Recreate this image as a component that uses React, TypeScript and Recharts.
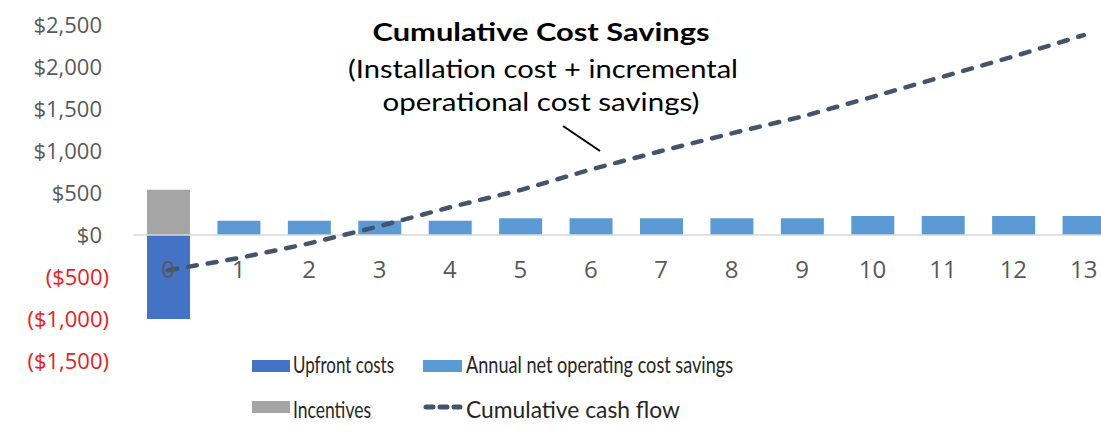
import React from 'react';
import { ComposedChart, Bar, Line, XAxis, YAxis, ReferenceLine, Legend } from 'recharts';

const years = ['0', '1', '2', '3', '4', '5', '6', '7', '8', '9', '10', '11', '12', '13'];
const upfrontCosts = [-1000, null, null, null, null, null, null, null, null, null, null, null, null, null];
const incentives = [540, null, null, null, null, null, null, null, null, null, null, null, null, null];
const annualSavings = [null, 170, 170, 170, 170, 200, 200, 200, 200, 200, 225, 225, 225, 225];
const cumulativeCashFlow = [-420, -275, -100, 105, 330, 535, 780, 1000, 1210, 1410, 1645, 1885, 2125, 2380];
const yTicks = [-1500, -1000, -500, 0, 500, 1000, 1500, 2000, 2500];

const data = years.map((year, i) => ({
    year,
    upfront: upfrontCosts[i],
    incentives: incentives[i],
    savings: annualSavings[i],
    cumulative: cumulativeCashFlow[i],
}));

const Y_MIN = -1500;
const Y_MAX = 2500;
const TOP = 25;
const PLOT_H = 336;
const X_AXIS_H = 30;
const zeroY = TOP + (PLOT_H * Y_MAX) / (Y_MAX - Y_MIN);

const fmt = (v: number) => {
    const s = '$' + Math.abs(v).toLocaleString('en-US');
    return v < 0 ? `(${s})` : s;
};

const YTick = (props: any) => {
    const { x, y, payload } = props;
    const neg = payload.value < 0;
    return (
        <text
            x={neg ? x : x - 7}
            y={y}
            dy="0.355em"
            textAnchor="end"
            fontFamily="'Open Sans', sans-serif"
            fontSize={22}
            fill={neg ? '#e8201e' : '#595959'}
        >
            {fmt(payload.value)}
        </text>
    );
};

// x labels sit just under the zero line, like the excel original
const XTick = (props: any) => {
    const { x, payload } = props;
    return (
        <text x={x} y={zeroY + 43} textAnchor="middle" fontFamily="'Open Sans', sans-serif" fontSize={24} fill="#595959">
            {payload.value}
        </text>
    );
};

const legendFont = "Lato, 'Noto Sans', sans-serif";

const renderLegend = () => (
    <svg width={560} height={87} style={{ display: 'block', overflow: 'visible' }}>
        <rect x={12} y={15} width={38} height={12} fill="#4472C4" />
        <text x={53} y={28} fontFamily={legendFont} fontSize={24} fill="#262626" textLength={101} lengthAdjust="spacingAndGlyphs">
            Upfront costs
        </text>
        <rect x={183} y={15} width={39} height={12} fill="#5B9BD5" />
        <text x={226} y={28} fontFamily={legendFont} fontSize={24} fill="#262626" textLength={267} lengthAdjust="spacingAndGlyphs">
            Annual net operating cost savings
        </text>
        <rect x={12} y={56} width={38} height={12} fill="#A5A5A5" />
        <text x={53} y={73} fontFamily={legendFont} fontSize={24} fill="#262626" textLength={78} lengthAdjust="spacingAndGlyphs">
            Incentives
        </text>
        <line x1={186} y1={62} x2={220} y2={62} stroke="#44546A" strokeWidth={5} strokeDasharray="7 7" strokeLinecap="round" />
        <text x={226} y={73} fontFamily={legendFont} fontSize={24} fill="#262626" textLength={214} lengthAdjust="spacingAndGlyphs">
            Cumulative cash flow
        </text>
    </svg>
);

export default function App() {
    return (
        <div style={{ position: 'absolute', left: 0, top: 0, width: 1101, height: 432, overflow: 'hidden', background: '#fff' }}>
            <ComposedChart
                width={1120}
                height={432}
                data={data}
                stackOffset="sign"
                margin={{ top: TOP, right: 1, left: 0, bottom: 432 - TOP - PLOT_H - X_AXIS_H }}
            >
                <YAxis
                    type="number"
                    domain={[Y_MIN, Y_MAX]}
                    ticks={yTicks}
                    interval={0}
                    width={133}
                    axisLine={false}
                    tickLine={false}
                    tickSize={0}
                    tickMargin={24}
                    tick={<YTick />}
                />
                <ReferenceLine y={0} stroke="#d9d9d9" strokeWidth={1.5} />
                <Bar dataKey="upfront" stackId="s" fill="#4472C4" barSize={43} isAnimationActive={false} />
                <Bar dataKey="incentives" stackId="s" fill="#A5A5A5" barSize={43} isAnimationActive={false} />
                <Bar dataKey="savings" stackId="s" fill="#5B9BD5" barSize={43} isAnimationActive={false} />
                <Line
                    type="linear"
                    dataKey="cumulative"
                    stroke="#44546A"
                    strokeWidth={4.5}
                    strokeDasharray="9 11"
                    strokeLinecap="round"
                    dot={false}
                    activeDot={false}
                    isAnimationActive={false}
                />
                <XAxis dataKey="year" type="category" height={X_AXIS_H} interval={0} axisLine={false} tickLine={false} tick={<XTick />} />
                <Legend
                    layout="vertical"
                    align="center"
                    verticalAlign="middle"
                    content={renderLegend}
                    wrapperStyle={{ position: 'absolute', left: 240, top: 345, width: 560, height: 87 }}
                />
            </ComposedChart>
            <svg width={1101} height={432} style={{ position: 'absolute', left: 0, top: 0, pointerEvents: 'none' }}>
                <text x={541} y={41} textAnchor="middle" fontFamily={legendFont} fontWeight="bold" fontSize={24} fill="#000" textLength={337} lengthAdjust="spacingAndGlyphs">
                    Cumulative Cost Savings
                </text>
                <text x={543} y={78} textAnchor="middle" fontFamily={legendFont} fontSize={25} fill="#000" textLength={390} lengthAdjust="spacingAndGlyphs">
                    (Installation cost + incremental
                </text>
                <text x={541} y={111} textAnchor="middle" fontFamily={legendFont} fontSize={25} fill="#000" textLength={317} lengthAdjust="spacingAndGlyphs">
                    operational cost savings)
                </text>
                <line x1={563} y1={126} x2={600} y2={151} stroke="#000" strokeWidth={2} />
            </svg>
        </div>
    );
}
